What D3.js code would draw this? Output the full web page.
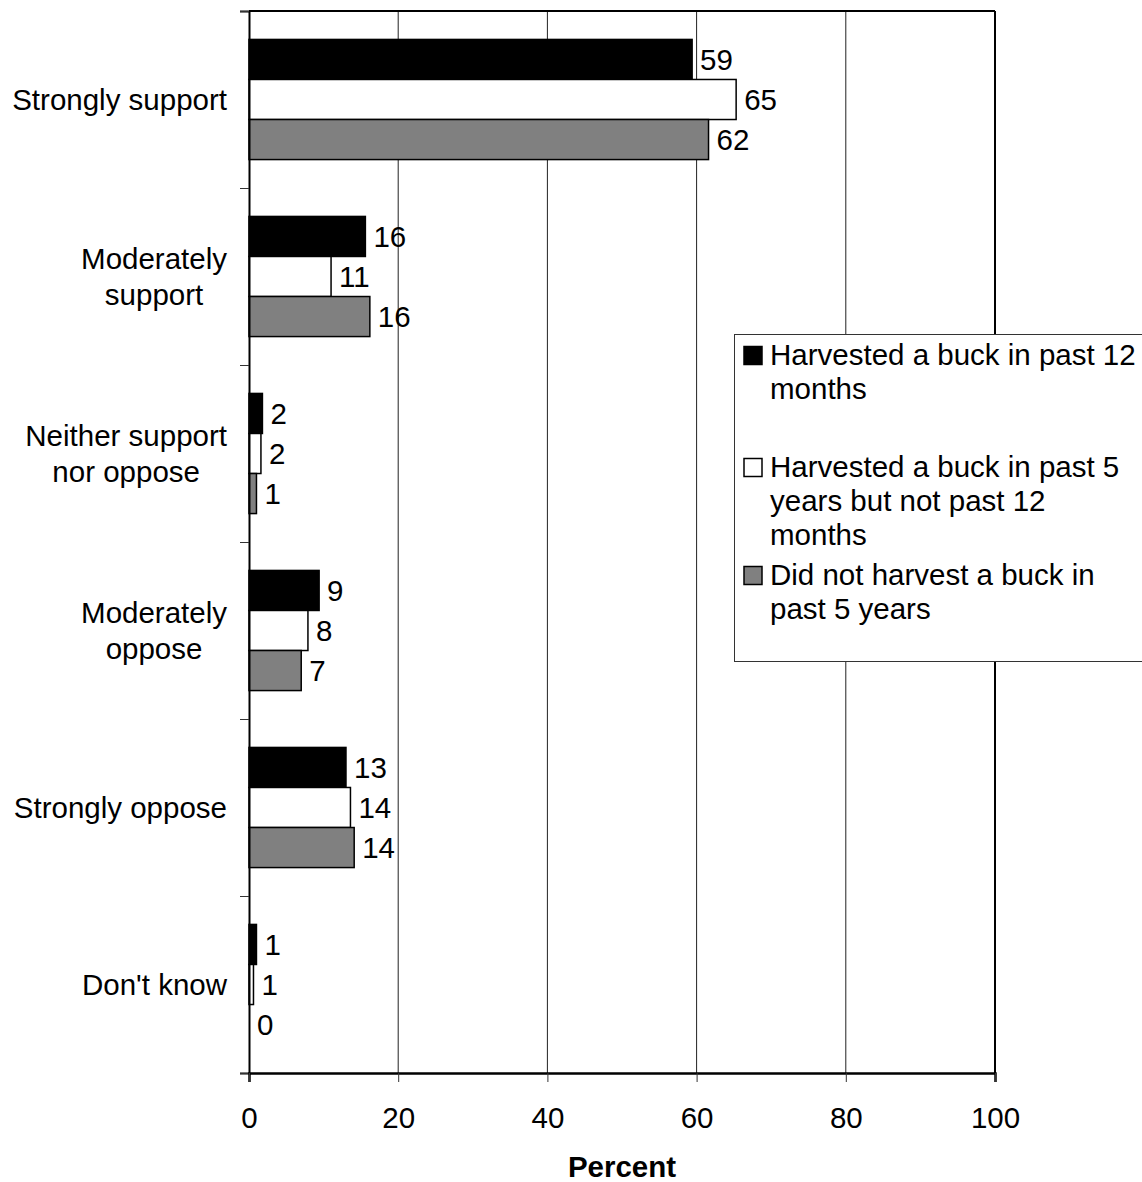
<!DOCTYPE html>
<html>
<head>
<meta charset="utf-8">
<script src="https://cdn.jsdelivr.net/npm/d3@7"></script>
<style>
  html, body { margin: 0; padding: 0; background: #fff; }
  svg { display: block; font-family: "Liberation Sans", Arial, Helvetica, sans-serif; }
</style>
</head>
<body>
<svg id="chart" width="1142" height="1182"></svg>
<script>
// ---- data ----
const categories = [
  ["Strongly support"],
  ["Moderately", "support"],
  ["Neither support", "nor oppose"],
  ["Moderately", "oppose"],
  ["Strongly oppose"],
  ["Don't know"]
];
const seriesNames = [
  ["Harvested a buck in past 12", "months"],
  ["Harvested a buck in past 5", "years but not past 12", "months"],
  ["Did not harvest a buck in", "past 5 years"]
];
const seriesColors = ["#000000", "#ffffff", "#808080"];
const harvested12mo = [59.4, 15.6, 1.8, 9.4, 13.0, 1.0];
const harvested5yr  = [65.3, 11.0, 1.6, 7.9, 13.6, 0.6];
const notHarvested  = [61.6, 16.2, 1.0, 7.0, 14.1, 0.0];
const seriesValues = [harvested12mo, harvested5yr, notHarvested];
const xTicks = [0, 20, 40, 60, 80, 100];
const xTitle = "Percent";

(function () {
// ---- layout ----
const svg = d3.select("#chart");
const pL = 249, pR = 995, pT = 11, pB = 1073;
const FS = 29.5;

const x = d3.scaleLinear().domain([0, 100]).range([pL, pR]);
const catIdx = d3.range(categories.length);
const y0 = d3.scaleBand().domain(catIdx).range([pT, pB]).padding(0);
const y1 = d3.scaleBand().domain(d3.range(seriesValues.length))
  .range([0, y0.bandwidth()]).paddingInner(0).paddingOuter(0.71);
const yEdge = d3.scaleLinear().domain([0, categories.length]).range([pT, pB]);

// gridlines
svg.append("g").selectAll("line")
  .data(xTicks.filter(t => t > 0 && t < 100))
  .join("line")
  .attr("x1", d => x(d)).attr("x2", d => x(d))
  .attr("y1", pT).attr("y2", pB)
  .attr("stroke", "#222").attr("stroke-width", 1);

// bars
const groups = svg.append("g").selectAll("g")
  .data(catIdx).join("g")
  .attr("transform", i => `translate(0,${y0(i)})`);

groups.each(function(ci) {
  const g = d3.select(this);
  const rows = seriesValues.map((vals, si) => ({ si, v: vals[ci] }));
  g.selectAll("rect").data(rows.filter(d => d.v > 0)).join("rect")
    .attr("x", x(0))
    .attr("y", d => y1(d.si))
    .attr("width", d => x(d.v) - x(0))
    .attr("height", y1.bandwidth())
    .attr("fill", d => seriesColors[d.si])
    .attr("stroke", "#000").attr("stroke-width", 1.5);
  g.selectAll("text").data(rows).join("text")
    .attr("x", d => x(d.v) + 8)
    .attr("y", d => y1(d.si) + y1.bandwidth() / 2 + 10.5)
    .attr("font-size", FS)
    .attr("fill", "#000")
    .text(d => d3.format(".0f")(d.v));
});

// plot frame top & right
svg.append("line").attr("x1", pL).attr("x2", pR).attr("y1", pT).attr("y2", pT)
  .attr("stroke", "#000").attr("stroke-width", 2);
svg.append("line").attr("x1", pR).attr("x2", pR).attr("y1", pT).attr("y2", pB)
  .attr("stroke", "#000").attr("stroke-width", 2);

// left axis (ticks at category boundaries)
const yAxis = svg.append("g").attr("transform", `translate(${pL},0)`)
  .call(d3.axisLeft(yEdge).ticks(categories.length).tickSize(9).tickFormat(""));
yAxis.select(".domain").attr("stroke", "#000").attr("stroke-width", 2);
yAxis.selectAll(".tick line").attr("stroke", "#333").attr("stroke-width", 1);

// bottom axis
const xAxis = svg.append("g").attr("transform", `translate(0,${pB})`)
  .call(d3.axisBottom(x).tickValues(xTicks).tickSize(9).tickPadding(0).tickFormat(d3.format("d")));
xAxis.select(".domain").attr("stroke", "#000").attr("stroke-width", 2.5);
xAxis.selectAll(".tick line").attr("stroke", "#333").attr("stroke-width", 1);
xAxis.selectAll(".tick text")
  .attr("font-size", FS).attr("font-family", "Liberation Sans, Arial, sans-serif")
  .attr("fill", "#000").attr("dy", null).attr("y", 1127.5 - pB);

// category labels
catIdx.forEach(ci => {
  const lines = categories[ci];
  const cy = y0(ci) + y0.bandwidth() / 2;
  const t = svg.append("text").attr("font-size", FS).attr("fill", "#000")
    .attr("text-anchor", "middle");
  lines.forEach((ln, k) => {
    t.append("tspan").attr("y", cy + 10.5 - (lines.length - 1) * 18 + k * 36).text(ln);
  });
  let maxW = 0;
  t.selectAll("tspan").each(function() { maxW = Math.max(maxW, this.getComputedTextLength()); });
  t.selectAll("tspan").attr("x", 227 - maxW / 2);
});

// x title
svg.append("text").attr("x", (pL + pR) / 2).attr("y", 1177)
  .attr("text-anchor", "middle").attr("font-size", FS).attr("font-weight", "bold")
  .attr("fill", "#000").text(xTitle);

// legend
const lg = svg.append("g");
lg.append("rect").attr("x", 734.5).attr("y", 334.5).attr("width", 500).attr("height", 327)
  .attr("fill", "#fff").attr("stroke", "#333").attr("stroke-width", 1);
const legendBase = [365, 477, 585];
const lineH = 34;
seriesNames.forEach((lines, si) => {
  const b = legendBase[si];
  lg.append("rect").attr("x", 744).attr("y", b - 18.5).attr("width", 18).attr("height", 18)
    .attr("fill", seriesColors[si]).attr("stroke", "#000").attr("stroke-width", 1.5);
  const t = lg.append("text").attr("font-size", FS).attr("fill", "#000");
  lines.forEach((ln, k) => {
    t.append("tspan").attr("x", 770).attr("y", b + k * lineH).text(ln);
  });
});
})();
</script>
</body>
</html>
